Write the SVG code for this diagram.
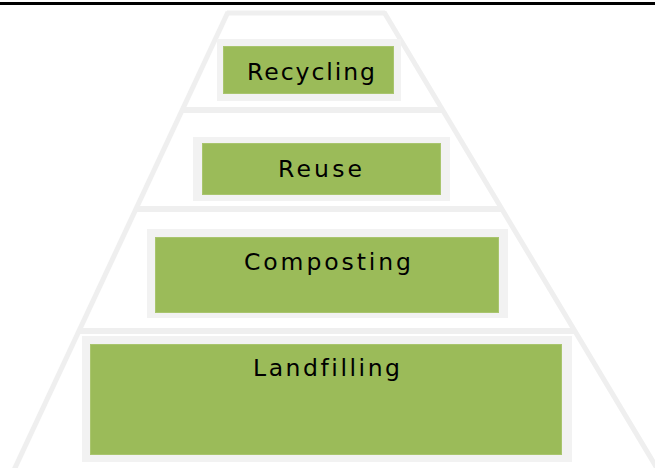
<svg xmlns="http://www.w3.org/2000/svg" width="655" height="468" viewBox="0 0 655 468">
  <style>
    .edge { stroke: #efefef; stroke-width: 5; fill: none; stroke-linecap: butt; }
    .band { fill: #efefef; }
    .frame { fill: #f2f2f2; }
    .box { fill: #9bbb59; stroke: #a9c56e; stroke-width: 1; }
    .label { font-family: "DejaVu Sans", "Liberation Sans", sans-serif; font-size: 23.5px; fill: #000; font-variant-ligatures: none; }
  </style>
  <rect width="655" height="468" fill="#ffffff"/>
  <rect x="0" y="2" width="655" height="3" fill="#000000"/>
  <g id="pyramid">
    <line class="edge" x1="228" y1="12" x2="14" y2="470"/>
    <line class="edge" x1="384" y1="12" x2="658" y2="470"/>
    <polygon class="band" points="227,10.5 385,10.5 388,15.5 225,15.5"/>
    <polygon class="band" points="184,107 441,107 445,113 181,113"/>
    <polygon class="band" points="138,206 500,206 504,212 135,212"/>
    <polygon class="band" points="82,328 572,328 576,334 79,334"/>
  </g>
  <g id="recycling">
    <rect class="frame" x="217" y="39" width="184" height="62"/>
    <rect class="box" x="223.5" y="46.5" width="170" height="47"/>
    <text class="label" x="247" y="80" textLength="128" lengthAdjust="spacing">Recycling</text>
  </g>
  <g id="reuse">
    <rect class="frame" x="193" y="137" width="257" height="64"/>
    <rect class="box" x="202.5" y="143.5" width="238" height="51"/>
    <text class="label" x="278" y="177" textLength="84" lengthAdjust="spacing">Reuse</text>
  </g>
  <g id="composting">
    <rect class="frame" x="147" y="229" width="361" height="89"/>
    <rect class="box" x="155.5" y="237.5" width="343" height="75"/>
    <text class="label" x="244" y="270" textLength="167" lengthAdjust="spacing">Composting</text>
  </g>
  <g id="landfilling">
    <rect class="frame" x="82" y="336" width="490" height="126"/>
    <rect class="box" x="90.5" y="344.5" width="471" height="110"/>
    <text class="label" x="253" y="376" textLength="147" lengthAdjust="spacing">Landfilling</text>
  </g>
</svg>
